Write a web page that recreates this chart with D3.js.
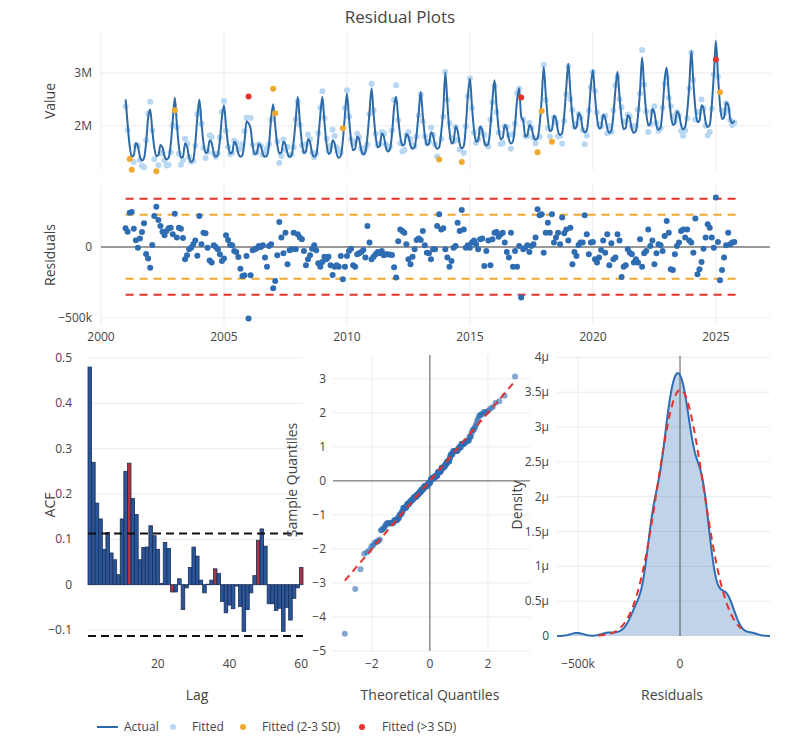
<!DOCTYPE html>
<html><head><meta charset="utf-8">
<script src="https://cdn.jsdelivr.net/npm/d3@7"></script>
<style>body{margin:0;background:#fff}text{font-family:"Open Sans",sans-serif;fill:#444}</style>
</head><body><svg id="c" width="800" height="744"></svg>
<script>
// Actual monthly values (millions), Jan 2001 .. Oct 2025
const actualByYear = [
[2.50,2.03,1.62,1.42,1.45,1.68,1.62,1.42,1.35,1.39,1.68,2.15],
[2.31,1.93,1.59,1.43,1.45,1.64,1.59,1.43,1.37,1.40,1.64,2.10],
[2.53,2.04,1.61,1.40,1.42,1.67,1.61,1.40,1.32,1.36,1.67,2.16],
[2.50,2.06,1.68,1.49,1.51,1.73,1.68,1.49,1.42,1.46,1.73,2.17],
[2.39,1.99,1.65,1.48,1.50,1.70,1.65,1.48,1.42,1.45,1.70,2.09],
[2.05,1.95,1.62,1.47,1.49,1.66,1.62,1.47,1.42,1.44,1.66,2.14],
[2.41,2.00,1.65,1.48,1.50,1.70,1.65,1.48,1.42,1.45,1.70,2.11],
[2.55,2.09,1.69,1.49,1.52,1.75,1.69,1.49,1.42,1.46,1.75,2.21],
[2.55,2.08,1.67,1.47,1.50,1.73,1.67,1.47,1.40,1.44,1.73,2.20],
[2.61,2.15,1.74,1.54,1.57,1.80,1.74,1.54,1.47,1.51,1.80,2.26],
[2.71,2.23,1.80,1.60,1.62,1.86,1.80,1.60,1.52,1.56,1.86,2.35],
[2.55,2.15,1.80,1.63,1.65,1.85,1.80,1.63,1.57,1.60,1.85,2.25],
[2.64,2.20,1.82,1.64,1.66,1.88,1.82,1.64,1.57,1.60,1.88,2.31],
[3.00,2.42,1.91,1.67,1.70,1.99,1.91,1.67,1.58,1.62,1.99,2.57],
[2.89,2.37,1.92,1.70,1.73,1.99,1.92,1.70,1.63,1.66,1.99,2.50],
[2.86,2.37,1.95,1.75,1.78,2.02,1.95,1.75,1.67,1.71,2.02,2.48],
[2.71,2.18,2.10,1.80,1.82,2.02,1.97,1.80,1.74,1.77,2.02,2.51],
[3.11,2.59,2.13,1.90,1.93,2.19,2.13,1.90,1.83,1.87,2.19,2.72],
[3.17,2.64,2.18,1.95,1.98,2.24,2.18,1.95,1.88,1.91,2.24,2.76],
[3.05,2.57,2.15,1.95,1.97,2.21,2.15,1.95,1.87,1.91,2.21,2.69],
[3.02,2.55,2.14,1.94,1.96,2.20,2.14,1.94,1.87,1.91,2.20,2.67],
[3.29,2.73,2.25,2.01,2.04,2.32,2.25,2.01,1.93,1.97,2.32,2.87],
[3.10,2.63,2.22,2.02,2.04,2.27,2.22,2.02,1.94,1.98,2.27,2.75],
[3.41,2.83,2.32,2.07,2.10,2.39,2.32,2.07,1.98,2.02,2.39,2.97],
[3.60,2.96,2.40,2.13,2.16,2.44,2.40,2.13,2.05,2.10]
];
// Residuals (thousands), same months
const residByYear = [
[132,108,242,247,129,47,-5,59,106,167,-49,-82],
[-146,14,219,284,190,148,108,82,113,132,136,89],
[235,66,136,129,63,-87,-59,-16,-5,19,45,-61],
[218,19,101,96,-5,-96,-110,12,0,-16,-52,-99],
[-82,82,49,14,12,-28,-35,-70,-153,-204,-200,-63],
[-505,-200,-23,-16,-9,7,0,12,-75,-139,7,19],
[-291,-240,-59,176,66,-45,101,-122,-23,-16,101,-16],
[89,66,54,-28,-129,-87,-59,-12,12,-23,-115,-139],
[-106,-68,-87,-68,-129,-197,-139,-129,-139,-63,-228,-139],
[-63,-28,-12,-129,-139,-52,-45,-35,-21,-75,148,31],
[-87,-68,-52,-35,-45,-28,-59,-52,-52,-54,-56,-143],
[-216,40,124,113,101,19,-87,-122,-68,-16,49,59],
[49,113,12,-40,-45,-87,-16,-16,148,230,124,132],
[-16,-75,-139,-99,-5,7,171,113,261,124,-5,12],
[-5,31,45,19,-16,54,59,-134,-28,45,-129,54],
[101,106,73,89,101,31,-35,-75,101,-139,-28,-139],
[7,-357,-16,-5,12,-35,7,19,66,266,223,230],
[-40,101,171,101,230,31,66,101,19,207,96,124],
[45,136,-122,-35,-63,14,31,31,223,89,-52,31],
[35,-87,-110,-75,-21,45,-40,89,-129,26,-87,-75],
[89,45,-212,-139,-129,-16,-40,-52,-110,-87,-110,54],
[-139,-45,-28,124,7,45,-122,-45,19,12,-28,77],
[183,101,-157,-162,-52,7,31,113,124,66,124,45],
[31,-40,200,-193,-157,-106,-12,66,160,136,66,-5],
[348,35,-235,-162,-75,12,101,19,31,35]
];
const acfLags = d3.range(1,61);
const acfValues = [0.48,0.27,0.18,0.145,0.078,0.115,0.07,0.055,0.022,0.145,0.25,0.268,0.19,0.155,0.055,0.082,0.083,0.13,0.108,0.078,
0.003,0.093,0.08,-0.016,-0.016,0.013,-0.055,-0.007,0.038,0.083,0.063,0.01,-0.018,0.001,0.01,0.035,0.025,-0.037,-0.062,-0.045,
-0.053,-0.003,-0.048,-0.103,-0.055,-0.018,0.02,0.098,0.123,0.085,-0.042,-0.042,-0.057,-0.052,-0.103,-0.05,-0.078,-0.03,-0.007,0.038];
const acfBound = 0.113;

const data=[];
actualByYear.forEach((row,yi)=>row.forEach((v,mi)=>{
  const r=residByYear[yi][mi]*1000;
  data.push({t:2001+yi+mi/12, a:v*1e6, r:r, f:v*1e6-r});
}));
const resid=data.map(d=>d.r);
const mean=d3.mean(resid), sd=d3.deviation(resid);
data.forEach(d=>{const z=Math.abs(d.r-mean)/sd; d.cls=z>3?2:(z>2?1:0);});

const svg=d3.select("#c");
const grid="#ebebeb";
svg.append("text").attr("x",400).attr("y",23).attr("text-anchor","middle").style("font-size","17px").text("Residual Plots");

function gridY(g,scale,ticks,x0,x1){ticks.forEach(t=>g.append("line").attr("x1",x0).attr("x2",x1).attr("y1",scale(t)).attr("y2",scale(t)).attr("stroke",grid));}
function gridX(g,scale,ticks,y0,y1){ticks.forEach(t=>g.append("line").attr("x1",scale(t)).attr("x2",scale(t)).attr("y1",y0).attr("y2",y1).attr("stroke",grid));}
function ylabels(scale,ticks,x,fmt){ticks.forEach(t=>svg.append("text").attr("x",x).attr("y",scale(t)+4).attr("text-anchor","end").style("font-size","12px").text(fmt(t)));}
function xlabels(scale,ticks,y,fmt){ticks.forEach(t=>svg.append("text").attr("x",scale(t)).attr("y",y).attr("text-anchor","middle").style("font-size","12px").text(fmt(t)));}
function ytitle(x,y,s){svg.append("text").attr("transform",`translate(${x},${y}) rotate(-90)`).attr("text-anchor","middle").style("font-size","14px").text(s);}
function xtitle(x,y,s){svg.append("text").attr("x",x).attr("y",y).attr("text-anchor","middle").style("font-size","14px").text(s);}
const minus=s=>String(s).replace("-","\u2212");

// Top panel
const xT=d3.scaleLinear().domain([2000,2027.2]).range([101,770]);
const yTop=d3.scaleLinear().domain([1.17e6,3.77e6]).range([170,32]);
const g1=svg.append("g");
gridX(g1,xT,[2000,2005,2010,2015,2020,2025],32,170);
gridY(g1,yTop,[2e6,3e6],101,770);
ylabels(yTop,[2e6,3e6],92,t=>(t/1e6)+"M");
ytitle(55,101,"Value");
const fillC=["#b7d7f2","#f0a92e","#e4312b"];
g1.selectAll(".fp").data(data.filter(d=>d.cls==0)).join("circle").attr("cx",d=>xT(d.t)).attr("cy",d=>yTop(d.f)).attr("r",3).attr("fill",fillC[0]);
g1.append("path").datum(data).attr("d",d3.line().x(d=>xT(d.t)).y(d=>yTop(d.a)).curve(d3.curveMonotoneX)).attr("fill","none").attr("stroke","#2c6aa8").attr("stroke-width",2);
g1.selectAll(".fo").data(data.filter(d=>d.cls>0)).join("circle").attr("cx",d=>xT(d.t)).attr("cy",d=>yTop(d.f)).attr("r",3).attr("fill",d=>fillC[d.cls]);

// Residual panel
const yR=d3.scaleLinear().domain([-550e3,437e3]).range([325,185]);
const g2=svg.append("g");
gridX(g2,xT,[2000,2005,2010,2015,2020,2025],185,325);
gridY(g2,yR,[-500e3],101,770);
ylabels(yR,[0,-500e3],92,t=>t==0?"0":"\u2212500k");
xlabels(xT,[2000,2005,2010,2015,2020,2025],341,d=>d);
ytitle(55,255,"Residuals");
g2.append("line").attr("x1",101).attr("x2",770).attr("y1",yR(0)).attr("y2",yR(0)).attr("stroke","#777").attr("stroke-width",1.5);
[[2,"#f0a92e"],[-2,"#f0a92e"],[3,"#e4312b"],[-3,"#e4312b"]].forEach(([k,c])=>g2.append("line").attr("x1",xT(2001)).attr("x2",xT(2025.8)).attr("y1",yR(mean+k*sd)).attr("y2",yR(mean+k*sd)).attr("stroke",c).attr("stroke-width",2).attr("stroke-dasharray","8,6"));
g2.selectAll("circle").data(data).join("circle").attr("cx",d=>xT(d.t)).attr("cy",d=>yR(d.r)).attr("r",3).attr("fill","#2f6db3");

// ACF
const xA=d3.scaleLinear().domain([0.5,60.5]).range([88,303]);
const yA=d3.scaleLinear().domain([-0.122,0.5]).range([640,358]);
const g3=svg.append("g");
gridY(g3,yA,[0.1,0.2,0.3,0.4,0.5,-0.1],88,303);
ylabels(yA,[-0.1,0,0.1,0.2,0.3,0.4,0.5],72,t=>minus(t));
xlabels(xA,[20,40,60],668,d=>d);
ytitle(55,505,"ACF");xtitle(197,700,"Lag");
g3.selectAll("rect").data(acfLags).join("rect").attr("x",l=>xA(l-0.5)).attr("width",xA(1)-xA(0)).attr("y",(l,i)=>yA(Math.max(0,acfValues[i]))).attr("height",(l,i)=>Math.abs(yA(acfValues[i])-yA(0)))
 .attr("fill",l=>l%12==0?"#b0333f":"#2a5599").attr("stroke","#1b2f55").attr("stroke-width",0.8);
[acfBound,-acfBound].forEach(v=>g3.append("line").attr("x1",88).attr("x2",303).attr("y1",yA(v)).attr("y2",yA(v)).attr("stroke","#111").attr("stroke-width",2).attr("stroke-dasharray","8,5"));

// QQ
function invNorm(p){const a=[-39.69683028665376,220.9460984245205,-275.9285104469687,138.3577518672690,-30.66479806614716,2.506628277459239],b=[-54.47609879822406,161.5858368580409,-155.6989798598866,66.80131188771972,-13.28068155288572],c=[-0.007784894002430293,-0.3223964580411365,-2.400758277161838,-2.549732539343734,4.374664141464968,2.938163982698783],d=[0.007784695709041462,0.3224671290700398,2.445134137142996,3.754408661907416];const pl=0.02425;let q,r;
if(p<pl){q=Math.sqrt(-2*Math.log(p));return(((((c[0]*q+c[1])*q+c[2])*q+c[3])*q+c[4])*q+c[5])/((((d[0]*q+d[1])*q+d[2])*q+d[3])*q+1);}
if(p>1-pl){q=Math.sqrt(-2*Math.log(1-p));return-(((((c[0]*q+c[1])*q+c[2])*q+c[3])*q+c[4])*q+c[5])/((((d[0]*q+d[1])*q+d[2])*q+d[3])*q+1);}
q=p-0.5;r=q*q;return(((((a[0]*r+a[1])*r+a[2])*r+a[3])*r+a[4])*r+a[5])*q/(((((b[0]*r+b[1])*r+b[2])*r+b[3])*r+b[4])*r+1);}
const sorted=resid.map(r=>(r-mean)/sd).sort(d3.ascending);
const n=sorted.length;
const qq=sorted.map((s,i)=>({x:invNorm((i+0.5)/n),y:s}));
const xQ=d3.scaleLinear().domain([-3.34,3.45]).range([333,530]);
const yQ=d3.scaleLinear().domain([-5,3.7]).range([651,355]);
const g4=svg.append("g");
gridX(g4,xQ,[-2,2],355,651);
gridY(g4,yQ,[-5,-4,-3,-2,-1,1,2,3],333,530);
ylabels(yQ,[-5,-4,-3,-2,-1,0,1,2,3],326,t=>minus(t));
xlabels(xQ,[-2,0,2],668,t=>minus(t));
ytitle(297,480,"Sample Quantiles");xtitle(430,700,"Theoretical Quantiles");
g4.append("line").attr("x1",xQ(0)).attr("x2",xQ(0)).attr("y1",355).attr("y2",651).attr("stroke","#555");
g4.append("line").attr("x1",333).attr("x2",530).attr("y1",yQ(0)).attr("y2",yQ(0)).attr("stroke","#555");
g4.selectAll("circle").data(qq).join("circle").attr("cx",d=>xQ(d.x)).attr("cy",d=>yQ(d.y)).attr("r",3).attr("fill","rgba(47,109,179,0.6)");
const lx=d3.extent(qq,d=>d.x);
g4.append("line").attr("x1",xQ(lx[0])).attr("x2",xQ(lx[1])).attr("y1",yQ(lx[0])).attr("y2",yQ(lx[1])).attr("stroke","#e4312b").attr("stroke-width",2).attr("stroke-dasharray","7,5");

// Density
const xD=d3.scaleLinear().domain([-603e3,441e3]).range([557,770]);
const yD=d3.scaleLinear().domain([0,4.02e-6]).range([636,356]);
const g5=svg.append("g");
gridX(g5,xD,[-500e3],356,636);
gridY(g5,yD,[0.5e-6,1e-6,1.5e-6,2e-6,2.5e-6,3e-6,3.5e-6,4e-6],557,770);
ylabels(yD,[0,0.5e-6,1e-6,1.5e-6,2e-6,2.5e-6,3e-6,3.5e-6,4e-6],549,t=>t==0?"0":(+(t*1e6).toFixed(1))+"\u03bc");
xlabels(xD,[-500e3,0],668,t=>t==0?"0":"\u2212500k");
ytitle(522,505,"Density");xtitle(672,700,"Residuals");
const h=1.06*sd*Math.pow(n,-0.2)*0.8;
const grid2=d3.range(-603e3,441e3+1,4e3);
const kde=grid2.map(x=>[x,d3.mean(resid,r=>Math.exp(-0.5*((x-r)/h)**2))/(h*Math.sqrt(2*Math.PI))]);
g5.append("path").datum(kde).attr("d",d3.area().x(d=>xD(d[0])).y0(yD(0)).y1(d=>yD(d[1]))).attr("fill","rgba(47,109,179,0.3)");
g5.append("line").attr("x1",xD(0)).attr("x2",xD(0)).attr("y1",356).attr("y2",636).attr("stroke","#555");
g5.append("path").datum(kde).attr("d",d3.line().x(d=>xD(d[0])).y(d=>yD(d[1]))).attr("fill","none").attr("stroke","#2f6db3").attr("stroke-width",2);
const normal=d3.range(-400e3,300e3+1,4e3).map(x=>[x,Math.exp(-0.5*((x-mean)/sd)**2)/(sd*Math.sqrt(2*Math.PI))]);
g5.append("path").datum(normal).attr("d",d3.line().x(d=>xD(d[0])).y(d=>yD(d[1]))).attr("fill","none").attr("stroke","#e4312b").attr("stroke-width",2).attr("stroke-dasharray","7,5");

// Legend
const lg=svg.append("g").attr("transform","translate(0,727)");
lg.append("line").attr("x1",97).attr("x2",118).attr("y1",0).attr("y2",0).attr("stroke","#2c6aa8").attr("stroke-width",2);
lg.append("text").attr("x",124).attr("y",4).style("font-size","12px").text("Actual");
[[173,192,"Fitted",0],[243,262,"Fitted (2-3 SD)",1],[362,382,"Fitted (>3 SD)",2]].forEach(([cx,tx,s,c])=>{
 lg.append("circle").attr("cx",cx).attr("cy",0).attr("r",3).attr("fill",fillC[c]);
 lg.append("text").attr("x",tx).attr("y",4).style("font-size","12px").text(s);});
</script></body></html>
